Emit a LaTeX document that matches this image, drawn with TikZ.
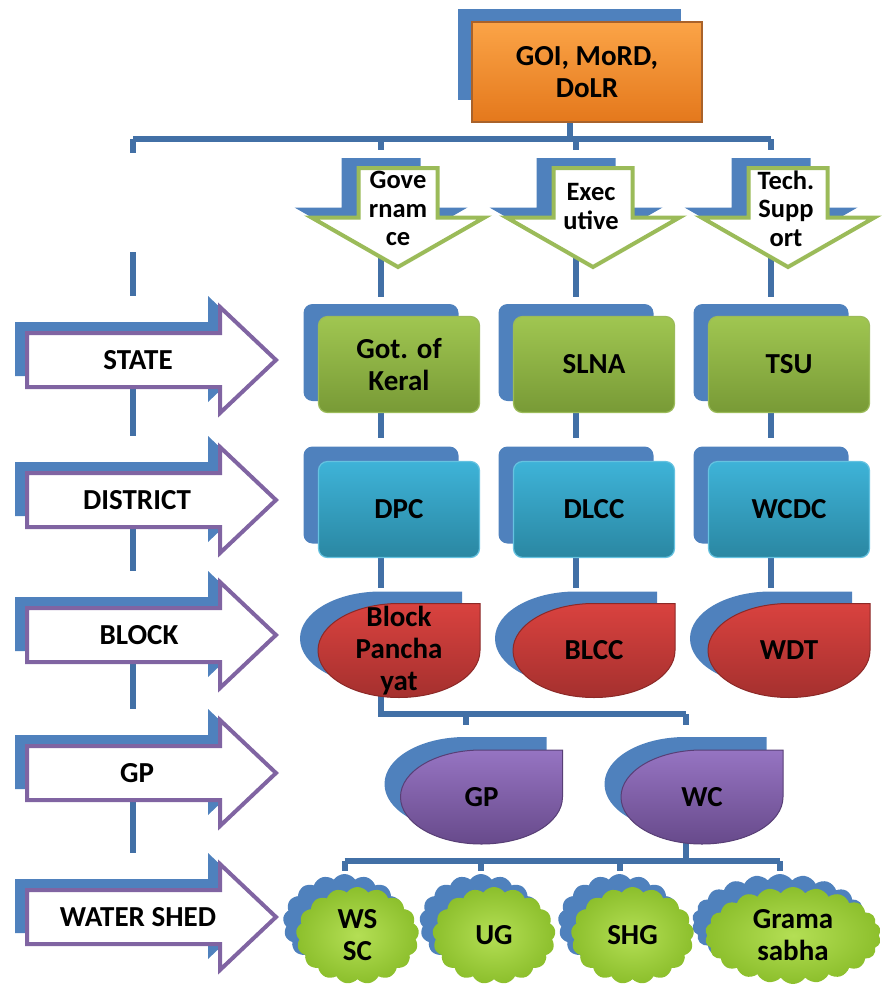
\documentclass[tikz,border=0pt]{standalone}
\usepackage{fontspec}
\setmainfont{Carlito}
\usetikzlibrary{shapes.symbols,backgrounds}

\definecolor{shadowblue}{HTML}{4F81BD}
\definecolor{treeblue}{HTML}{4270A6}
\definecolor{olvgreen}{HTML}{9BBB59}
\definecolor{lilac}{HTML}{8064A2}
\definecolor{orgtop}{HTML}{FBA447}
\definecolor{orgbot}{HTML}{E4781C}
\definecolor{orgline}{HTML}{A9622A}
\definecolor{grntop}{HTML}{A0C651}
\definecolor{grnbot}{HTML}{789A36}
\definecolor{cyantop}{HTML}{3EB3D8}
\definecolor{cyanbot}{HTML}{2A87A2}
\definecolor{redtop}{HTML}{D9423F}
\definecolor{redbot}{HTML}{A5302E}
\definecolor{purtop}{HTML}{9674C2}
\definecolor{purbot}{HTML}{674A8B}
\definecolor{limein}{HTML}{B4DF55}
\definecolor{limeout}{HTML}{8CBF2C}

\newcommand{\boxfont}{\fontsize{29}{32}\selectfont\bfseries}
\newcommand{\arrfont}{\fontsize{26.5}{28.5}\selectfont\bfseries}

\tikzset{
  tree/.style={draw=treeblue, line width=6pt},
  backbox/.style={fill=shadowblue, rounded corners=9pt, minimum width=155pt, minimum height=97pt, inner sep=0pt},
  frontbox/.style={rounded corners=9pt, minimum width=161pt, minimum height=96pt, inner sep=0pt, line width=1.2pt, font=\boxfont, align=center},
  statebox/.style={frontbox, top color=grntop, bottom color=grnbot, draw=olvgreen},
  distbox/.style={frontbox, top color=cyantop, bottom color=cyanbot, draw=cyantop!80!white},
  goibox/.style={top color=orgtop, bottom color=orgbot, draw=orgline, line width=1.5pt, minimum width=230pt, minimum height=100pt, inner sep=0pt, font=\boxfont, align=center},
  backfill/.style={fill=shadowblue},
  blockfill/.style={top color=redtop, bottom color=redbot, draw=redbot!85!black, line width=1pt},
  gpfill/.style={top color=purtop, bottom color=purbot, draw=purbot!85!black, line width=1pt},
  grnline/.style={fill=white, draw=olvgreen, line width=4pt},
  purline/.style={fill=white, draw=lilac, line width=4pt},
  txt/.style={font=\boxfont, align=center, inner sep=0pt},
  arrtxt/.style={font=\arrfont, align=center, inner sep=0pt},
  cloudback/.style={cloud, cloud puffs=17, cloud puff arc=110, cloud ignores aspect, fill=shadowblue, minimum width=123pt, minimum height=97pt, inner sep=0pt},
  cloudfront/.style={cloud, cloud puffs=17, cloud puff arc=110, cloud ignores aspect, inner color=limein, outer color=limeout, minimum width=123pt, minimum height=97pt, inner sep=0pt},
  downarr/.pic={
    \path[#1] (-39.5,-49.5) -- (39.5,-49.5) -- (39.5,0) -- (86.5,0) -- (0,49.5) -- (-86.5,0) -- (-39.5,0) -- cycle;
    \node[inner sep=0pt, minimum width=173pt, minimum height=99pt] (-box) {};
  },
  rarr/.pic={
    \path[#1] (-124.5,-27) -- (68.5,-27) -- (68.5,-53) -- (124.5,0) -- (68.5,53) -- (68.5,27) -- (-124.5,27) -- cycle;
    \node[inner sep=0pt, minimum width=249pt, minimum height=106pt] (-box) {};
  },
  tear/.pic={
    \path[#1] (81,-47) -- (81,0) .. controls (81,26) and (45,47) .. (0,47)
      .. controls (-45,47) and (-81,26) .. (-81,0)
      .. controls (-81,-26) and (-45,-47) .. (0,-47) -- cycle;
    \node[inner sep=0pt, minimum width=162pt, minimum height=94pt] (-box) {};
  }
}

\begin{document}
\begin{tikzpicture}[x=1pt, y=-1pt]
\useasboundingbox (0,0) rectangle (882,986);

\coordinate (bus) at (0,139);
\coordinate (bus2) at (0,714);
\coordinate (bus3) at (0,861);
\coordinate (ltop) at (133,252);

% top box
\node[fill=shadowblue, minimum width=223pt, minimum height=91pt, inner sep=0pt] (goib) at (569.5,54.5) {};
\node[goibox] (goi) at (587,72) {GOI, MoRD,\\DoLR};

% down arrows
\pic (ar1b) at (381,207.5) {downarr=backfill};
\pic (ar2b) at (576,207.5) {downarr=backfill};
\pic (ar3b) at (771,207.5) {downarr=backfill};
\pic (ar1) at (398,217.5) {downarr=grnline};
\pic (ar2) at (593,217.5) {downarr=grnline};
\pic (ar3) at (788,217.5) {downarr=grnline};
\node[arrtxt] (gov) at (398,208.5) {Gove\\rnam\\ce};
\node[arrtxt] (exe) at (591,206.5) {Exec\\utive};
\node[arrtxt] (tech) at (786,208.5) {Tech.\\Supp\\ort};

% level arrows on the left
\pic (stb) at (139.5,349) {rarr=backfill};
\pic (dib) at (139.5,489) {rarr=backfill};
\pic (blb) at (139.5,624) {rarr=backfill};
\pic (gpb) at (139.5,762) {rarr=backfill};
\pic (wsb) at (139.5,906) {rarr=backfill};
\pic (st) at (151.5,360) {rarr=purline};
\pic (di) at (151.5,500) {rarr=purline};
\pic (bl) at (151.5,635) {rarr=purline};
\pic (gp) at (151.5,773) {rarr=purline};
\pic (ws) at (151.5,917) {rarr=purline};
\node[txt] (state) at (138,360) {STATE};
\node[txt] (district) at (137,500) {DISTRICT};
\node[txt] (block) at (139,635) {BLOCK};
\node[txt] (gplevel) at (137,773) {GP};
\node[txt] (wshed) at (138,917) {WATER SHED};

% state row
\node[backbox] (g1b) at (381,352.5) {};
\node[backbox] (g2b) at (576,352.5) {};
\node[backbox] (g3b) at (771,352.5) {};
\node[statebox] (gok) at (399,364.5) {Got. of\\Keral};
\node[statebox] (slna) at (594,364.5) {SLNA};
\node[statebox] (tsu) at (789,364.5) {TSU};

% district row
\node[backbox] (d1b) at (381,495) {};
\node[backbox] (d2b) at (576,495) {};
\node[backbox] (d3b) at (771,495) {};
\node[distbox] (dpc) at (399,509.5) {DPC};
\node[distbox] (dlcc) at (594,509.5) {DLCC};
\node[distbox] (wcdc) at (789,509.5) {WCDC};

% block row
\pic (r1b) at (381,638.5) {tear=backfill};
\pic (r2b) at (576,638.5) {tear=backfill};
\pic (r3b) at (771,638.5) {tear=backfill};
\pic (r1) at (399,650.5) {tear=blockfill};
\pic (r2) at (594,650.5) {tear=blockfill};
\pic (r3) at (789,650.5) {tear=blockfill};
\node[txt] (bp) at (399,650.5) {Block\\Pancha\\yat};
\node[txt] (blcc) at (594,650.5) {BLCC};
\node[txt] (wdt) at (789,650.5) {WDT};

% gp row
\pic (p1b) at (465.5,784) {tear=backfill};
\pic (p2b) at (685.5,784) {tear=backfill};
\pic (p1) at (481.5,797) {tear=gpfill};
\pic (p2) at (702,797) {tear=gpfill};
\node[txt] (gpx) at (481.5,797) {GP};
\node[txt] (wc) at (702,797) {WC};

% watershed row
\node[cloudback] (k1b) at (344.5,922.5) {};
\node[cloudback] (k2b) at (481,922.5) {};
\node[cloudback] (k3b) at (619.5,922.5) {};
\node[cloudback, minimum width=176pt, cloud puffs=22] (k4b) at (780,922.5) {};
\node[cloudfront] (k1) at (357.5,935.5) {};
\node[cloudfront] (k2) at (494,935.5) {};
\node[cloudfront] (k3) at (632.5,935.5) {};
\node[cloudfront, minimum width=176pt, cloud puffs=22] (k4) at (793,935.5) {};
\node[txt] (wssc) at (357.5,935.5) {WS\\SC};
\node[txt] (ug) at (494,935.5) {UG};
\node[txt] (shg) at (632.5,935.5) {SHG};
\node[txt] (grama) at (793,935.5) {Grama\\sabha};

% connectors
\begin{scope}[on background layer]
\draw[tree] (goib.south) -- (goib.south |- bus);
\draw[tree] (ltop |- bus) -- ++(0,14);
\draw[tree] (ltop |- bus) -- (g3b.north |- bus);
\foreach \c in {g1b,g2b,g3b}
  \draw[tree] (\c.north |- bus) -- ++(0,11);
\draw[tree, shorten >=7pt] (g1b.north |- ar1b-box.south) -- (g1b.north);
\draw[tree, shorten >=7pt] (g2b.north |- ar2b-box.south) -- (g2b.north);
\draw[tree, shorten >=7pt] (g3b.north |- ar3b-box.south) -- (g3b.north);
\draw[tree, shorten >=8pt] (g1b.south) -- (d1b.north);
\draw[tree, shorten >=8pt] (g2b.south) -- (d2b.north);
\draw[tree, shorten >=8pt] (g3b.south) -- (d3b.north);
\draw[tree, shorten >=3pt] (d1b.south) -- (r1b-box.north);
\draw[tree, shorten >=3pt] (d2b.south) -- (r2b-box.north);
\draw[tree, shorten >=3pt] (d3b.south) -- (r3b-box.north);
\draw[tree] (r1b-box.center) |- (p2b-box.north |- bus2);
\draw[tree, shorten >=12pt] (p1b-box.north |- bus2) -- (p1b-box.north);
\draw[tree, shorten >=12pt] (p2b-box.north |- bus2) -- (p2b-box.north);
\draw[tree] (p2b-box.center) -- (p2b-box.center |- bus3);
\draw[tree] (k1b.north |- bus3) -- (k4b.north |- bus3);
\foreach \c in {k1b,k2b,k3b,k4b}
  \draw[tree, shorten >=3pt] (\c.north |- bus3) -- (\c.north);
% left chain
\draw[tree] (ltop) -- (ltop |- stb-box.north);
\draw[tree] (ltop |- state.center) -- (ltop |- dib-box.north);
\draw[tree] (ltop |- district.center) -- (ltop |- blb-box.north);
\draw[tree] (ltop |- block.center) -- (ltop |- gpb-box.north);
\draw[tree] (ltop |- gplevel.center) -- (ltop |- wsb-box.north);
\end{scope}

\end{tikzpicture}
\end{document}
